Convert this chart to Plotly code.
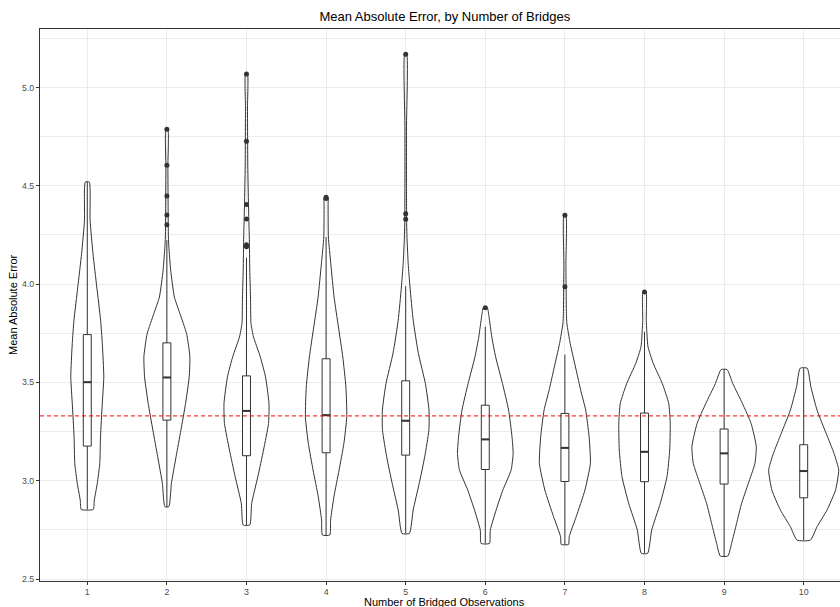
import plotly.graph_objects as go

# ---------------- data ----------------
categories = [1, 2, 3, 4, 5, 6, 7, 8, 9, 10]
x_tick_labels = ["1", "2", "3", "4", "5", "6", "7", "8", "9", "10"]
y_tick_values = [2.5, 3.0, 3.5, 4.0, 4.5, 5.0]
reference_line = 3.33

# violin outlines: MAE values (ascending) and relative density at each value
violin_values = [
    [2.854, 2.901, 2.986, 3.088, 3.223, 3.393, 3.528, 3.698, 3.816, 3.985, 4.155, 4.324, 4.519],
    [2.868, 2.986, 3.122, 3.257, 3.393, 3.528, 3.630, 3.748, 3.850, 3.934, 4.070, 4.188, 4.239, 4.400, 4.600, 4.787],
    [2.775, 2.885, 3.020, 3.156, 3.291, 3.393, 3.528, 3.630, 3.731, 3.799, 3.934, 4.070, 4.239, 4.400, 4.600, 4.900, 5.068],
    [2.724, 2.800, 2.918, 3.054, 3.190, 3.325, 3.477, 3.630, 3.782, 3.934, 4.104, 4.239, 4.409, 4.439],
    [2.732, 2.851, 2.986, 3.122, 3.257, 3.359, 3.494, 3.647, 3.816, 3.985, 4.104, 4.239, 4.300, 4.500, 4.800, 5.169],
    [2.681, 2.749, 2.851, 2.952, 3.054, 3.139, 3.223, 3.359, 3.494, 3.630, 3.731, 3.834, 3.880],
    [2.676, 2.715, 2.817, 2.952, 3.088, 3.223, 3.359, 3.460, 3.562, 3.698, 3.799, 3.850, 3.986, 4.100, 4.350],
    [2.631, 2.749, 2.885, 3.020, 3.156, 3.291, 3.393, 3.494, 3.596, 3.681, 3.816, 3.960],
    [2.617, 2.681, 2.783, 2.885, 2.986, 3.088, 3.173, 3.291, 3.393, 3.494, 3.565],
    [2.698, 2.766, 2.851, 2.952, 3.054, 3.139, 3.240, 3.359, 3.477, 3.572],
]
violin_density = [
    [0.168, 0.196, 0.279, 0.349, 0.369, 0.419, 0.461, 0.419, 0.372, 0.265, 0.159, 0.078, 0.056],
    [0.056, 0.126, 0.257, 0.391, 0.522, 0.623, 0.642, 0.550, 0.363, 0.209, 0.106, 0.056, 0.042, 0.034, 0.028, 0.028],
    [0.092, 0.145, 0.316, 0.475, 0.615, 0.628, 0.531, 0.385, 0.196, 0.126, 0.112, 0.092, 0.078, 0.056, 0.036, 0.028, 0.028],
    [0.103, 0.126, 0.218, 0.363, 0.497, 0.578, 0.553, 0.466, 0.344, 0.223, 0.131, 0.064, 0.056, 0.056],
    [0.103, 0.209, 0.377, 0.531, 0.648, 0.651, 0.550, 0.355, 0.209, 0.120, 0.070, 0.036, 0.028, 0.022, 0.022, 0.028],
    [0.117, 0.140, 0.302, 0.489, 0.721, 0.777, 0.746, 0.651, 0.480, 0.288, 0.182, 0.103, 0.056],
    [0.103, 0.120, 0.316, 0.559, 0.712, 0.676, 0.581, 0.441, 0.316, 0.148, 0.056, 0.042, 0.034, 0.028, 0.028],
    [0.089, 0.201, 0.441, 0.628, 0.704, 0.718, 0.676, 0.497, 0.246, 0.098, 0.050, 0.042],
    [0.106, 0.209, 0.349, 0.489, 0.676, 0.860, 0.899, 0.754, 0.511, 0.243, 0.084],
    [0.187, 0.372, 0.651, 0.888, 0.978, 0.846, 0.628, 0.372, 0.201, 0.098],
]

# boxplot statistics
box_q1 = [3.176, 3.308, 3.127, 3.142, 3.130, 3.057, 2.996, 2.995, 2.983, 2.913]
box_median = [3.501, 3.525, 3.355, 3.333, 3.305, 3.210, 3.167, 3.147, 3.139, 3.049]
box_q3 = [3.743, 3.701, 3.533, 3.620, 3.508, 3.384, 3.342, 3.344, 3.263, 3.183]
whisker_low = [2.854, 2.867, 2.775, 2.724, 2.732, 2.681, 2.676, 2.631, 2.617, 2.698]
whisker_high = [4.519, 4.223, 4.134, 4.239, 3.989, 3.783, 3.641, 3.757, 3.565, 3.572]
outliers = [
    [],
    [4.302, 4.351, 4.448, 4.604, 4.787],
    [4.190, 4.200, 4.331, 4.405, 4.726, 5.068],
    [4.435, 4.442],
    [4.329, 4.358, 5.169],
    [3.879],
    [3.986, 4.350],
    [3.960],
    [],
    [],
]

# ---------------- styling ----------------
FONT = "Liberation Sans, Arial, Helvetica, sans-serif"
DARK = "#333333"
GRID = "#ebebeb"
VIOLIN_HALF_WIDTH = 0.45   # ggplot width 0.9
BOX_WIDTH = 0.1

fig = go.Figure()

# violins (transparent fill, outline only)
for cat, ys, ds in zip(categories, violin_values, violin_density):
    right_x = [cat + VIOLIN_HALF_WIDTH * d for d in ds]
    left_x = [cat - VIOLIN_HALF_WIDTH * d for d in reversed(ds)]
    xs = right_x + left_x + [right_x[0]]
    yy = list(ys) + list(reversed(ys)) + [ys[0]]
    fig.add_trace(go.Scatter(
        x=xs, y=yy, mode="lines",
        line=dict(color=DARK, width=1, shape="spline", smoothing=0.5),
        hoverinfo="skip", showlegend=False,
    ))

# boxplots
fig.add_trace(go.Box(
    x=categories, q1=box_q1, median=box_median, q3=box_q3,
    lowerfence=whisker_low, upperfence=whisker_high,
    width=BOX_WIDTH, whiskerwidth=0, fillcolor="white",
    line=dict(color=DARK, width=1), boxpoints=False, showlegend=False,
))

# thicker median lines
mx, my = [], []
for cat, m in zip(categories, box_median):
    mx += [cat - BOX_WIDTH / 2, cat + BOX_WIDTH / 2, None]
    my += [m, m, None]
fig.add_trace(go.Scatter(x=mx, y=my, mode="lines",
                         line=dict(color=DARK, width=2),
                         hoverinfo="skip", showlegend=False))

# outliers
ox, oy = [], []
for cat, outs in zip(categories, outliers):
    for o in outs:
        ox.append(cat)
        oy.append(o)
fig.add_trace(go.Scatter(x=ox, y=oy, mode="markers",
                         marker=dict(color=DARK, size=5),
                         showlegend=False))

# reference line
fig.add_shape(type="line", xref="paper", x0=0, x1=1, yref="y",
              y0=reference_line, y1=reference_line, layer="above",
              line=dict(color="rgba(255,0,0,0.8)", width=1.2, dash="4px,3px"))

minor_vals = [v + 0.25 for v in y_tick_values]

fig.update_layout(
    width=840, height=607,
    margin=dict(l=40, r=0, t=29, b=26),
    plot_bgcolor="white", paper_bgcolor="white",
    font=dict(family=FONT, color="black"),
    title=dict(text="Mean Absolute Error, by Number of Bridges",
               font=dict(size=13, color="black", family=FONT),
               xref="paper", x=0.506, xanchor="center",
               yref="container", y=1 - 16 / 607, yanchor="middle"),
    xaxis=dict(range=[0.406, 10.456], tickvals=categories, ticktext=x_tick_labels,
               showgrid=True, gridcolor=GRID, gridwidth=1, zeroline=False,
               showline=True, linecolor=DARK, linewidth=1, mirror=True,
               ticks="outside", ticklen=3, tickcolor=DARK, tickwidth=1,
               ticklabelstandoff=-1,
               tickfont=dict(size=8.8, color="#4d4d4d", family=FONT)),
    yaxis=dict(range=[2.490, 5.297], tickvals=y_tick_values,
               ticktext=[f"{v:.1f}" for v in y_tick_values],
               showgrid=True, gridcolor=GRID, gridwidth=1, zeroline=False,
               showline=True, linecolor=DARK, linewidth=1,
               ticks="outside", ticklen=3, tickcolor=DARK, tickwidth=1,
               tickfont=dict(size=8.8, color="#4d4d4d", family=FONT),
               minor=dict(tickvals=minor_vals, showgrid=True, gridcolor=GRID,
                          gridwidth=0.6, ticks="")),
    annotations=[
        dict(text="Number of Bridged Observations", xref="paper", yref="paper",
             x=0.506, y=0, yshift=-20.5, xanchor="center", yanchor="middle",
             showarrow=False, font=dict(size=11, color="black", family=FONT)),
        dict(text="Mean Absolute Error", xref="paper", yref="paper",
             x=0, y=0.5, xshift=-27, textangle=-90, xanchor="center",
             yanchor="middle", showarrow=False,
             font=dict(size=11, color="black", family=FONT)),
    ],
)

fig.write_html(
    "out.html",
    config={"displayModeBar": False},
    post_script="document.body.style.margin='0';document.body.style.padding='0';"
                "document.documentElement.style.overflow='hidden';",
)
